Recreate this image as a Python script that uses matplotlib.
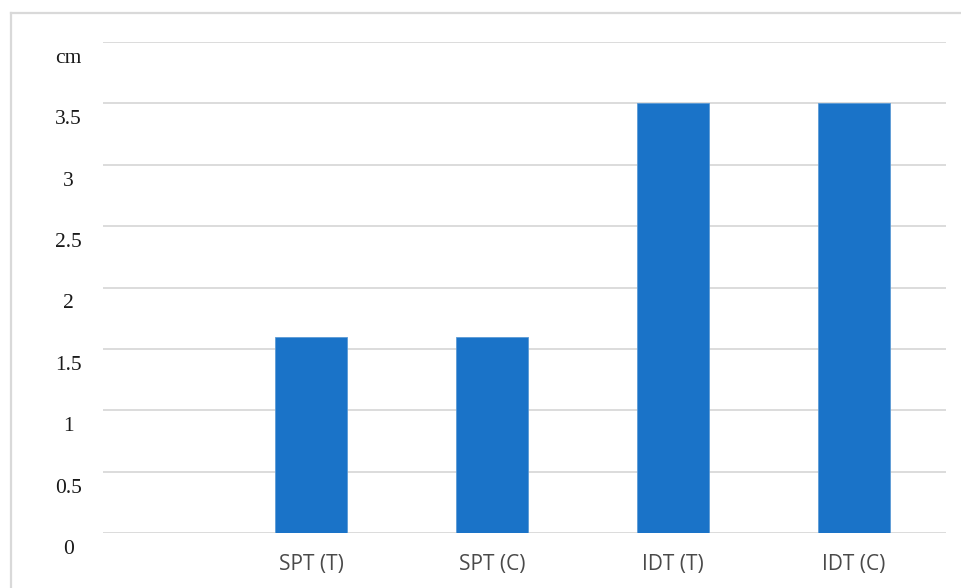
import matplotlib
matplotlib.use("Agg")
import matplotlib.pyplot as plt
import matplotlib.transforms as mtransforms
from matplotlib.lines import Line2D

categories = ["SPT (T)", "SPT (C)", "IDT (T)", "IDT (C)"]
values = [1.6, 1.6, 3.5, 3.5]
y_ticks = [0, 0.5, 1, 1.5, 2, 2.5, 3, 3.5, 4]
y_labels = ["0", "0.5", "1", "1.5", "2", "2.5", "3", "3.5", "cm"]

fig = plt.figure(figsize=(9.62, 5.88), dpi=100)
ax = fig.add_axes([103 / 962, 1 - 533 / 588, (946 - 103) / 962, (533 - 42) / 588])

x = list(range(1, len(categories) + 1))
ax.bar(x, values, width=0.4, color="#1a73c8", edgecolor="#5b9bd5", linewidth=0.6, zorder=3)

ax.set_xlim(-0.15, 4.51)
ax.set_ylim(0, 4)
ax.set_yticks(y_ticks)
ax.set_yticklabels(y_labels, family="Liberation Serif", fontsize=15.5, color="#1a1a1a", ha="center")
ax.set_xticks(x)
ax.set_xticklabels(categories, family="Open Sans", fontsize=15, color="#4a4a4a")
ax.tick_params(axis="y", length=0, pad=25)
ax.tick_params(axis="x", length=0, pad=15)

# push y labels a little below their gridlines
shift = mtransforms.ScaledTranslation(0, -14 / 100, fig.dpi_scale_trans)
for lbl in ax.get_yticklabels():
    lbl.set_transform(lbl.get_transform() + shift)

ax.grid(axis="y", color="#dcdcdc", linewidth=1.4, zorder=0)
for s in ax.spines.values():
    s.set_visible(False)

# light outer frame (top and left edges)
fig.add_artist(Line2D([11 / 962, 1], [1 - 13 / 588] * 2, color="#d9d9d9", linewidth=1.6,
                      transform=fig.transFigure))
fig.add_artist(Line2D([11 / 962] * 2, [0, 1 - 13 / 588], color="#d9d9d9", linewidth=1.6,
                      transform=fig.transFigure))

fig.savefig("out.png", dpi=100)
